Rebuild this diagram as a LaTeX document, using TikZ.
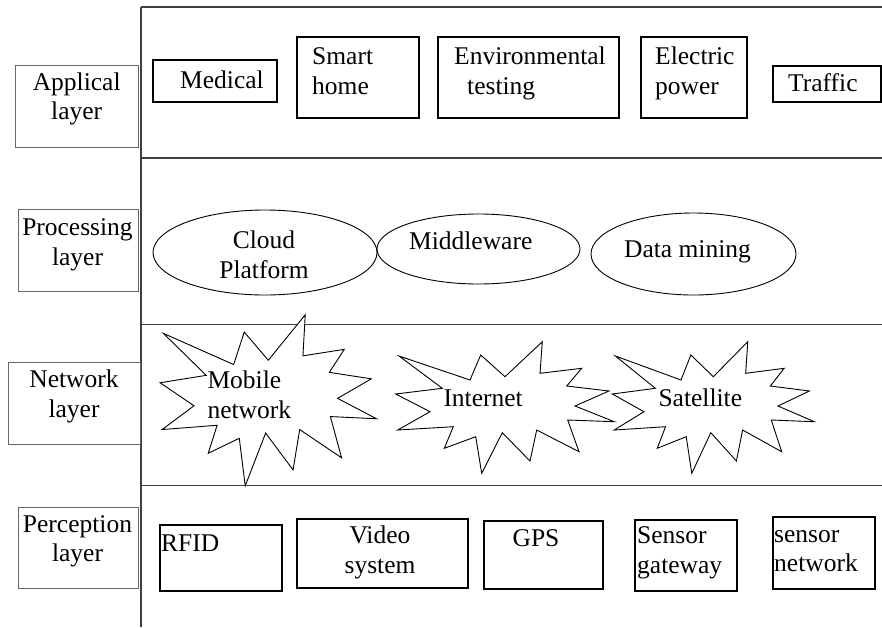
\documentclass[tikz,border=0pt]{standalone}
\usepackage{fontspec}
\setmainfont{Liberation Serif}
\usetikzlibrary{shapes.geometric}
\begin{document}
\begin{tikzpicture}[x=1pt,y=-1pt,
  font=\fontsize{25.5}{29.5}\selectfont,
  band/.style={draw=black!75,line width=1.2pt},
  layerbox/.style={draw=black!60,line width=1pt,inner sep=0pt},
  itembox/.style={draw,line width=2pt,inner sep=0pt},
  cloudbox/.style={ellipse,draw,line width=0.9pt,inner sep=0pt},
  burst/.style={draw,fill=white,line width=0.9pt,line join=miter},
  txt/.style={inner sep=0pt,align=left,anchor=base west},
  ctxt/.style={inner sep=0pt,align=center,anchor=base}]
\useasboundingbox (0,0) rectangle (882,627);
\foreach \y in {7,158,324.5,485.5}
  \draw[band] (141,\y) -- (882,\y);
\draw[band] (141,7) -- (141,627);
% layers
\node[layerbox,minimum width=123,minimum height=82] (applical) at (76.5,106) {};
\node[layerbox,minimum width=120,minimum height=82] (processing) at (78,250) {};
\node[layerbox,minimum width=132,minimum height=82] (network) at (74,403) {};
\node[layerbox,minimum width=120,minimum height=81] (perception) at (78,547.5) {};
\node[ctxt] at (76.7,119.8) {Applical\\layer};
\node[ctxt] at (77.5,265) {Processing\\layer};
\node[ctxt] at (74,417.3) {Network\\layer};
\node[ctxt] at (77.5,561.7) {Perception\\layer};
% applical layer
\node[itembox,minimum width=124,minimum height=42] (medical) at (215,81) {};
\node[itembox,minimum width=122,minimum height=81] (smarthome) at (358,77.5) {};
\node[itembox,minimum width=181,minimum height=81] (envtest) at (528.5,77.5) {};
\node[itembox,minimum width=106,minimum height=81] (electric) at (694,77.5) {};
\node[itembox,minimum width=108,minimum height=36] (traffic) at (827,84) {};
\node[txt] at (180,88) {Medical};
\node[txt] at (312,94) {Smart\\home};
\node[txt] at (454,94) {Environmental\\\hspace*{13pt}testing};
\node[txt] at (655,94) {Electric\\power};
\node[txt] at (788,91) {Traffic};
% processing layer
\node[cloudbox,minimum width=224,minimum height=85] (cloud) at (265,252.5) {};
\node[cloudbox,minimum width=203,minimum height=70] (middleware) at (478.5,249) {};
\node[cloudbox,minimum width=205,minimum height=82] (datamining) at (693.5,254) {};
\node[ctxt] at (264,278) {Cloud\\Platform};
\node[ctxt] at (470.7,249) {Middleware};
\node[ctxt] at (687.5,257) {Data mining};
% network layer
\foreach \cx/\cy/\sx/\sy in {268.3/400.3/0.99/1.30,505/407.5/1/1,713.3/407.5/0.924/1}
  \draw[burst,shift={(\cx,\cy)},xscale=\sx,yscale=\sy]
    (-106,-51.5) -- (-35,-27.5) -- (-24.3,-52.5) -- (0,-30.8) -- (37.3,-65.8)
    -- (35,-34.2) -- (76.7,-39.2) -- (61.7,-21.5) -- (104,-16.5) -- (70,-1.5)
    -- (109.3,14.2) -- (62.7,12.5) -- (74,44.2) -- (31.7,22.5) -- (25,53.5)
    -- (-2.7,25.2) -- (-23.3,65.8) -- (-29.3,29.2) -- (-60.7,40.8) -- (-51.7,19.2)
    -- (-107.3,22.5) -- (-75,4.2) -- (-109.3,-13.5) -- (-62.7,-19.2) -- cycle;
\node[txt] (mobile) at (207.3,418.3) {Mobile\\network};
\node[txt] (internet) at (443.3,406) {Internet};
\node[txt] (satellite) at (658.3,406) {Satellite};
% perception layer
\node[itembox,minimum width=122,minimum height=66] (rfid) at (220.5,557.5) {};
\node[itembox,minimum width=171,minimum height=69] (video) at (382.2,553.7) {};
\node[itembox,minimum width=119,minimum height=68] (gps) at (543.7,554.5) {};
\node[itembox,minimum width=102,minimum height=71] (gateway) at (685.5,555) {};
\node[itembox,minimum width=102,minimum height=72] (sensornet) at (823.8,552.5) {};
\node[txt] at (161,551) {RFID};
\node[ctxt] at (380,573) {Video\\system};
\node[ctxt] at (536,546.7) {GPS};
\node[txt] at (637,573.3) {Sensor\\gateway};
\node[txt] at (774,571.7) {sensor\\network};
\end{tikzpicture}
\end{document}
